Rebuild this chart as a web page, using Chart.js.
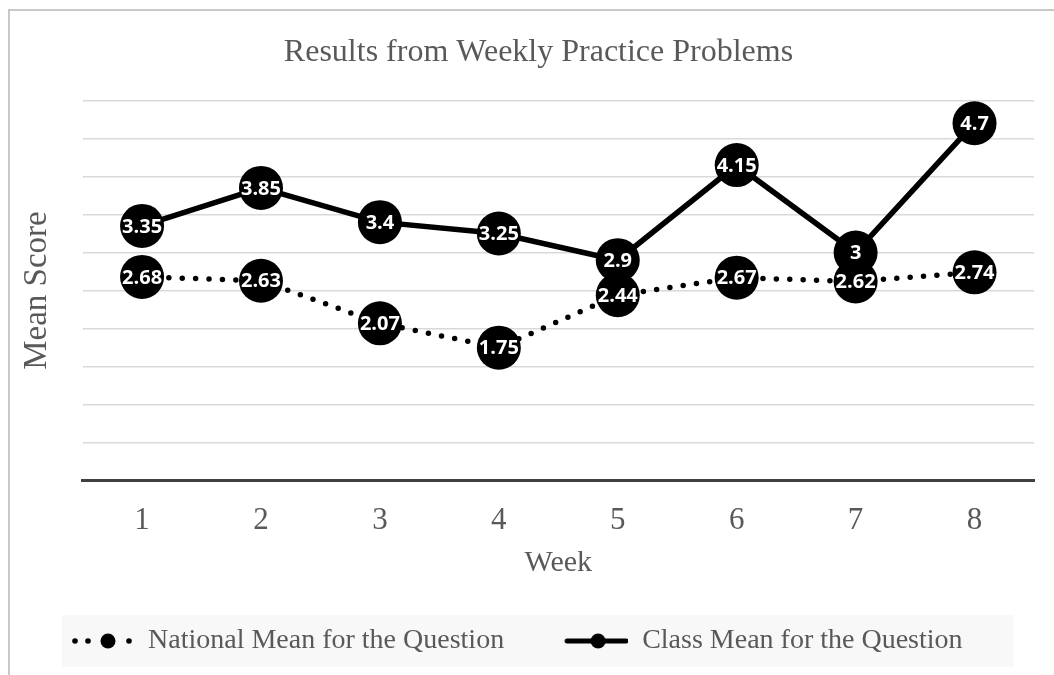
<!DOCTYPE html>
<html lang="en">
<head>
    <meta charset="UTF-8">
    <title>Results from Weekly Practice Problems</title>
    <script src="https://cdn.jsdelivr.net/npm/chart.js@4.4.1/dist/chart.umd.min.js"></script>
    <style>
        body { margin: 0; background: #fff; }
        #box {
            position: absolute; left: 8px; top: 9px;
            width: 1046px; height: 666px;
            border-left: 2px solid #c8c8c8; border-top: 2px solid #c8c8c8;
        }
    </style>
</head>
<body>
<div id="box"><canvas id="myChart"></canvas></div>
<script>
    var weeks = ['1', '2', '3', '4', '5', '6', '7', '8'];
    var nationalMean = [2.68, 2.63, 2.07, 1.75, 2.44, 2.67, 2.62, 2.74];
    var classMean = [3.35, 3.85, 3.4, 3.25, 2.9, 4.15, 3, 4.7];

    var textColor = '#595959';
    var serif = '"Liberation Serif", "Times New Roman", serif';

    // legend pictures: line + marker, drawn in the right part of a wider canvas
    var ICON_W = 114, ICON_OFF = 50;
    function legendIcon(dotted) {
        var c = document.createElement('canvas');
        c.width = ICON_W; c.height = 22;
        var g = c.getContext('2d');
        g.fillStyle = '#000';
        g.strokeStyle = '#000';
        if (dotted) {
            [5, 18, 59].forEach(function (x) {
                g.beginPath(); g.arc(ICON_OFF + x, 11, 2.8, 0, Math.PI * 2); g.fill();
            });
            g.beginPath(); g.arc(ICON_OFF + 38, 11, 7.5, 0, Math.PI * 2); g.fill();
        } else {
            g.lineWidth = 5;
            g.lineCap = 'round';
            g.beginPath(); g.moveTo(ICON_OFF + 3, 11); g.lineTo(ICON_W - 2, 11); g.stroke();
            g.beginPath(); g.arc(ICON_OFF + 34, 11, 7.5, 0, Math.PI * 2); g.fill();
        }
        return c;
    }
    var icons = [legendIcon(true), legendIcon(false)];

    var pointLabels = {
        id: 'pointLabels',
        afterDatasetsDraw: function (chart) {
            var ctx = chart.ctx;
            ctx.save();
            ctx.fillStyle = '#fff';
            ctx.font = 'bold 20px "Open Sans", sans-serif';
            ctx.textAlign = 'center';
            ctx.textBaseline = 'middle';
            chart.data.datasets.forEach(function (ds, i) {
                chart.getDatasetMeta(i).data.forEach(function (pt, j) {
                    ctx.fillText(String(ds.data[j]), pt.x, pt.y + 1);
                });
            });
            ctx.restore();
        }
    };

    // grey band behind the legend
    var legendBg = {
        id: 'legendBg',
        beforeDraw: function (chart) {
            var boxes = chart.legend && chart.legend.legendHitBoxes;
            if (!boxes || !boxes.length) return;
            var last = boxes[boxes.length - 1];
            var l = boxes[0].left + ICON_OFF - 8;
            var r = last.left + last.width + 51;
            var cy = boxes[0].top + boxes[0].height / 2;
            var ctx = chart.ctx;
            ctx.save();
            ctx.fillStyle = '#f8f8f8';
            ctx.fillRect(l, cy - 26, r - l, 52);
            ctx.restore();
        }
    };

    // title sits a bit right of the canvas centre in the original
    var titleShift = {
        id: 'titleShift',
        afterLayout: function (chart) {
            if (chart.titleBlock) chart.titleBlock.left += 30;
        }
    };

    var ctx = document.querySelector('#myChart').getContext('2d');
    new Chart(ctx, {
        type: 'line',
        data: {
            labels: weeks,
            datasets: [{
                label: 'National Mean for the Question',
                data: nationalMean,
                borderColor: '#000',
                backgroundColor: '#000',
                borderWidth: 5.5,
                borderDash: [0, 13.4],
                borderCapStyle: 'round',
                pointRadius: 22,
                pointHoverRadius: 22,
                pointBackgroundColor: '#000',
                pointBorderWidth: 0
            }, {
                label: 'Class Mean for the Question',
                data: classMean,
                borderColor: '#000',
                backgroundColor: '#000',
                borderWidth: 5.5,
                pointRadius: 22,
                pointHoverRadius: 22,
                pointBackgroundColor: '#000',
                pointBorderWidth: 0
            }]
        },
        options: {
            responsive: true,
            maintainAspectRatio: false,
            animation: false,
            layout: { padding: { left: 0, right: 19, top: 0, bottom: 12 } },
            plugins: {
                title: {
                    display: true,
                    text: 'Results from Weekly Practice Problems',
                    color: textColor,
                    font: { family: serif, size: 32, weight: 'normal' },
                    padding: { top: 22, bottom: 29 }
                },
                legend: {
                    position: 'bottom',
                    align: 'start',
                    labels: {
                        color: textColor,
                        font: { family: serif, size: 28 },
                        usePointStyle: true,
                        pointStyleWidth: ICON_W,
                        padding: 10,
                        generateLabels: function (chart) {
                            var items = Chart.defaults.plugins.legend.labels.generateLabels(chart);
                            items.forEach(function (it, i) { it.pointStyle = icons[i]; });
                            return items;
                        }
                    }
                },
                tooltip: { enabled: false }
            },
            scales: {
                x: {
                    offset: true,
                    grid: { display: false, drawTicks: false },
                    border: { color: '#404040', width: 3 },
                    ticks: { color: textColor, font: { family: serif, size: 31 }, padding: 21 },
                    title: {
                        display: true, text: 'Week', color: textColor,
                        font: { family: serif, size: 30, lineHeight: 0.2 },
                        padding: { top: 0, bottom: 51 }
                    }
                },
                y: {
                    min: 0,
                    max: 5,
                    ticks: { display: false, stepSize: 0.5 },
                    grid: { color: '#d9d9d9', lineWidth: 1.5, drawTicks: false },
                    border: { display: false },
                    title: {
                        display: true, text: 'Mean Score', color: textColor,
                        font: { family: serif, size: 33 },
                        padding: { top: 8, bottom: 25 }
                    }
                }
            }
        },
        plugins: [legendBg, titleShift, pointLabels]
    });
</script>
</body>
</html>
